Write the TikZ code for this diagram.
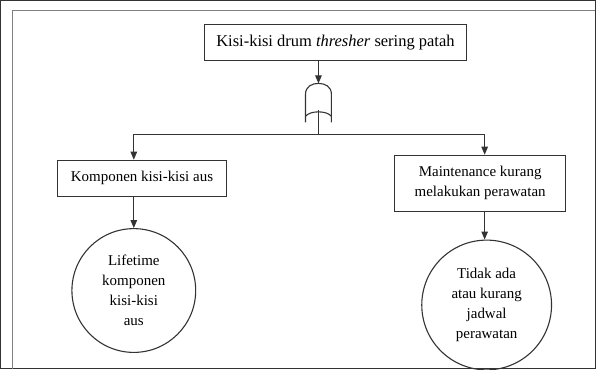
\documentclass[tikz,border=0pt]{standalone}
\usepackage{fontspec}
\setmainfont{Liberation Serif}
\usetikzlibrary{arrows.meta}
\begin{document}
\begin{tikzpicture}[x=1pt,y=-1pt,
  line width=1.1pt,
  every path/.style={draw=black!80},
  txt/.style={font=\fontsize{15}{20}\selectfont, align=center},
  box/.style={txt, draw, rectangle, inner sep=0pt},
  evt/.style={txt, draw, circle, inner sep=0pt},
  arr/.style={-{Triangle[length=8pt,width=6.5pt]}},
  frame/.style={draw=gray, line width=1.2pt}
]
\useasboundingbox (0,0) rectangle (596,369);
% page frame (top and left edges)
\draw[frame] (596,10) -- (12,10) -- (12,369);

% top event
\node[box, font=\fontsize{16.5}{20}\selectfont, minimum width=263pt, minimum height=36pt] (top) at (335.5,42)
  {Kisi-kisi drum \textit{thresher} sering patah};

% OR gate
\coordinate (gtop) at (318.5,83);
\coordinate (gout) at (318.5,110);
\coordinate (bus) at (318.5,134);
\draw (305.5,122) -- (305.5,94)
  .. controls (305.5,86) and (312,83) .. (gtop)
  .. controls (325,83) and (331.5,86) .. (331.5,94) -- (331.5,122);
\draw (305.5,116) .. controls (310,110) and (327,110) .. (331.5,116);
\draw[arr] (top.south -| gtop) -- (gtop);
\draw (gout) -- (bus);

% intermediate events
\node[box, minimum width=170pt, minimum height=36pt] (lbox) at (141.7,178)
  {Komponen kisi-kisi aus};
\node[box, minimum width=171pt, minimum height=56pt] (rbox) at (480.5,183)
  {Maintenance kurang\\melakukan perawatan};

% basic events
\node[evt, minimum size=124pt] (lcirc) at (133.5,290.5)
  {Lifetime\\komponen\\kisi-kisi\\aus};
\node[evt, minimum size=130pt] (rcirc) at (487,305)
  {Tidak ada\\atau kurang\\jadwal\\perawatan};

% connectors
\coordinate (lx) at (133.5,134);
\coordinate (rx) at (485,134);
\draw (lx) -- (rx);
\draw[arr] (lx) -- (lx |- lbox.north);
\draw[arr] (rx) -- (rx |- rbox.north);
\draw[arr] (lbox.south -| lcirc) -- (lcirc.north);
\draw[arr] (rbox.south -| rx) -- (rx |- rcirc.north);
\end{tikzpicture}
\end{document}
